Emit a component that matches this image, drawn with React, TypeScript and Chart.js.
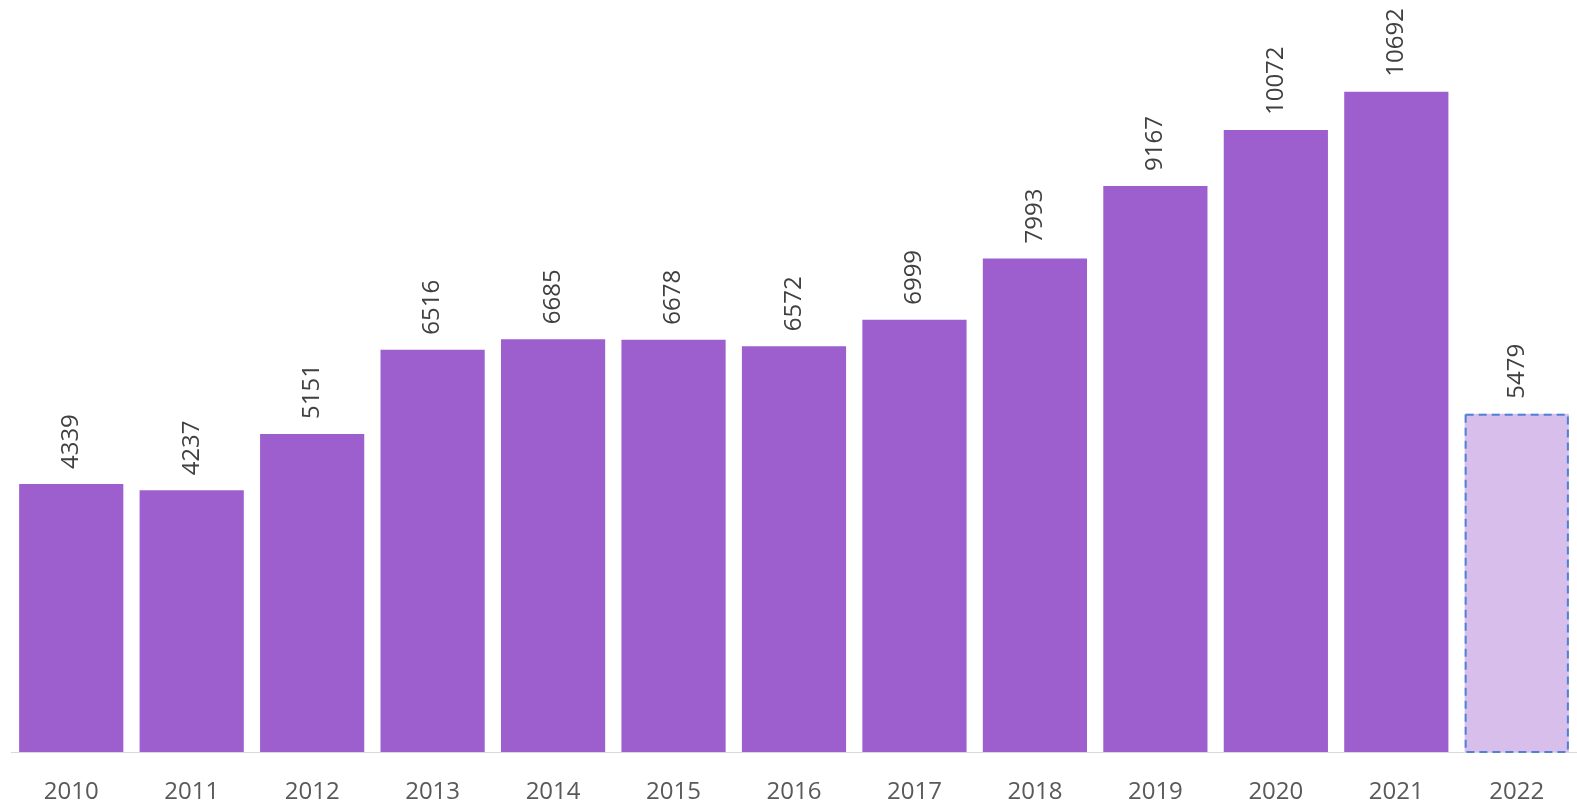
import React, { useEffect, useRef } from "react";
import { Chart, registerables } from "chart.js";

Chart.register(...registerables);

const years = ["2010", "2011", "2012", "2013", "2014", "2015", "2016", "2017", "2018", "2019", "2020", "2021", "2022"];
const values = [4339, 4237, 5151, 6516, 6685, 6678, 6572, 6999, 7993, 9167, 10072, 10692, 5479];
const yMax = 12000;

const barColor = "#9d5fce";
const lightColor = "#d8bfeb";
const dashColor = "#4f81d6";
const textColor = "#404040";
const fontFamily = "'Open Sans', 'Noto Sans', sans-serif";

const labelPlugin = {
  id: "rotLabels",
  afterDatasetsDraw(chart: any) {
    const ctx = chart.ctx;
    const meta = chart.getDatasetMeta(0);
    ctx.save();
    const last = meta.data[meta.data.length - 1];
    if (last) {
      const p = last.getProps(["x", "y", "base", "width"], true);
      ctx.strokeStyle = dashColor;
      ctx.lineWidth = 2;
      ctx.setLineDash([8, 5]);
      ctx.strokeRect(p.x - p.width / 2 + 1, p.y + 1, p.width - 2, p.base - p.y - 1);
      ctx.setLineDash([]);
    }
    ctx.fillStyle = textColor;
    ctx.font = `24px ${fontFamily}`;
    ctx.textAlign = "left";
    ctx.textBaseline = "middle";
    meta.data.forEach((el: any, i: number) => {
      const p = el.getProps(["x", "y"], true);
      ctx.save();
      ctx.translate(p.x, p.y - 15);
      ctx.rotate(-Math.PI / 2);
      ctx.fillText(String(values[i]), 0, 0);
      ctx.restore();
    });
    ctx.restore();
  },
};

export default function App() {
  const ref = useRef<HTMLCanvasElement>(null);
  useEffect(() => {
    document.body.style.margin = "0";
    const chart = new Chart(ref.current as HTMLCanvasElement, {
      type: "bar",
      data: {
        labels: years,
        datasets: [
          {
            data: values,
            backgroundColor: values.map((_, i) => (i === values.length - 1 ? lightColor : barColor)),
            borderWidth: 0,
            barPercentage: 0.865,
            categoryPercentage: 1,
          },
        ],
      },
      options: {
        animation: false,
        responsive: false,
        maintainAspectRatio: false,
        layout: { padding: { left: 11, top: 11, right: 0, bottom: 0 } },
        plugins: { legend: { display: false }, tooltip: { enabled: false } },
        scales: {
          x: {
            grid: { display: false, drawTicks: false },
            border: { display: true, color: "#d9d9d9", width: 1 },
            ticks: { color: "#595959", font: { family: fontFamily, size: 24 }, padding: 26, maxRotation: 0 },
            afterFit: (s: any) => {
              s.height = 52;
            },
          },
          y: { display: false, min: 0, max: yMax },
        },
      },
      plugins: [labelPlugin],
    });
    return () => chart.destroy();
  }, []);
  return <canvas ref={ref} width={1577} height={804} style={{ display: "block" }} />;
}
